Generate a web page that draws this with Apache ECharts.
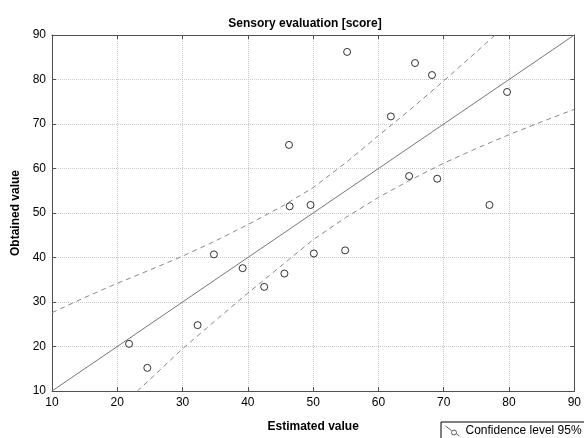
<!DOCTYPE html>
<html>
<head>
<meta charset="utf-8">
<script src="https://cdn.jsdelivr.net/npm/echarts@6/dist/echarts.min.js"></script>
<style>html,body{margin:0;padding:0;background:#fff}#c{width:584px;height:438px}</style>
</head>
<body>
<div id="c"></div>
<script>
var titleText = 'Sensory evaluation [score]';
var xName = 'Estimated value';
var yName = 'Obtained value';
var legendName = 'Confidence level 95%';

var estimated = [55.2, 46.3, 46.4, 49.6, 65.6, 68.2, 79.7, 61.9, 64.7, 69.0, 77.0, 34.8, 50.1, 54.9, 39.2, 45.6, 42.5, 32.3, 21.8, 24.6];
var obtained  = [86.2, 65.3, 51.5, 51.8, 83.7, 81.0, 77.2, 71.7, 58.3, 57.7, 51.8, 40.7, 40.9, 41.6, 37.6, 36.4, 33.4, 24.8, 20.6, 15.2];

var lineX = [10, 90];
var lineY = [10, 90];

var bandX     = [10, 15, 20, 25, 30, 35, 40, 45, 50, 55, 60, 65, 70, 75, 80, 85, 90];
var bandUpper = [27.6, 31.0, 34.2, 37.2, 40.3, 43.7, 47.4, 51.3, 55.7, 61.3, 67.4, 73.4, 79.7, 86.2, 92.8, 99.5, 106.3];
var bandLower = [-8.0, -0.8, 5.8, 12.6, 19.5, 25.8, 32.0, 38.0, 44.0, 49.0, 53.5, 57.5, 61.2, 64.5, 67.6, 70.5, 73.3];

var xTicks = [10, 20, 30, 40, 50, 60, 70, 80, 90];
var yTicks = [10, 20, 30, 40, 50, 60, 70, 80, 90];

function pairs(xs, ys) { return xs.map(function (x, i) { return [x, ys[i]]; }); }

var FONT = '"Liberation Sans", Arial, sans-serif';
var frame = {show: true, onZero: false, lineStyle: {color: '#505050', width: 1}};
var tickIn = {show: true, inside: true, length: 4, lineStyle: {color: '#505050'}};
var grid = {type: 'dotted', color: '#c8c8c8', width: 1};

var chart = echarts.init(document.getElementById('c'), null, {renderer: 'canvas'});
chart.setOption({
  animation: false,
  backgroundColor: '#fff',
  title: {
    text: titleText,
    left: 300, top: 13, textAlign: 'center',
    textStyle: {fontFamily: FONT, fontSize: 12, fontWeight: 'bold', color: '#000'}
  },
  legend: {
    left: 441, top: 422,
    padding: [3, 6, 3, 4],
    borderColor: '#000', borderWidth: 1,
    itemWidth: 14, itemHeight: 10, itemGap: 4,
    icon: 'path://M0,0L6,4.5M6,6.5a2.5,2.5 0 1,0 5,0a2.5,2.5 0 1,0 -5,0M11,8L14,10',
    itemStyle: {color: 'rgba(0,0,0,0)', borderColor: '#333', borderWidth: 1},
    textStyle: {fontFamily: FONT, fontSize: 12, color: '#000', padding: [0, 0, 0, 1]},
    data: [legendName]
  },
  grid: {left: 52, right: 7, top: 35, bottom: 46},
  xAxis: [{
    type: 'value', min: xTicks[0], max: xTicks[xTicks.length - 1], interval: 10,
    position: 'bottom',
    name: xName, nameLocation: 'middle', nameGap: 30,
    nameTextStyle: {fontFamily: FONT, fontSize: 12, fontWeight: 'bold', color: '#000'},
    axisLine: frame, axisTick: tickIn,
    axisLabel: {fontFamily: FONT, fontSize: 12, color: '#000', margin: 6},
    splitLine: {show: true, lineStyle: grid}
  }, {
    type: 'value', min: xTicks[0], max: xTicks[xTicks.length - 1], interval: 10,
    position: 'top',
    axisLine: frame, axisTick: tickIn, axisLabel: {show: false}, splitLine: {show: false}
  }],
  yAxis: [{
    type: 'value', min: yTicks[0], max: yTicks[yTicks.length - 1], interval: 10,
    position: 'left',
    name: yName, nameLocation: 'middle', nameGap: 27,
    nameTextStyle: {fontFamily: FONT, fontSize: 12, fontWeight: 'bold', color: '#000'},
    axisLine: frame, axisTick: tickIn,
    axisLabel: {fontFamily: FONT, fontSize: 12, color: '#000', margin: 6},
    splitLine: {show: true, lineStyle: grid}
  }, {
    type: 'value', min: yTicks[0], max: yTicks[yTicks.length - 1], interval: 10,
    position: 'right',
    axisLine: frame, axisTick: tickIn, axisLabel: {show: false}, splitLine: {show: false}
  }],
  series: [{
    type: 'line', name: 'fit', data: pairs(lineX, lineY),
    symbol: 'none', clip: true,
    lineStyle: {color: '#777', width: 1}
  }, {
    type: 'line', name: 'upper', data: pairs(bandX, bandUpper),
    symbol: 'none', clip: true,
    lineStyle: {color: '#888', width: 1, type: [5, 4]}
  }, {
    type: 'line', name: 'lower', data: pairs(bandX, bandLower),
    symbol: 'none', clip: true,
    lineStyle: {color: '#888', width: 1, type: [5, 4]}
  }, {
    type: 'scatter', name: legendName, data: pairs(estimated, obtained),
    symbol: 'circle', symbolSize: 7,
    itemStyle: {color: '#fff', borderColor: '#000', borderWidth: 1},
    z: 5
  }]
});
</script>
</body>
</html>
